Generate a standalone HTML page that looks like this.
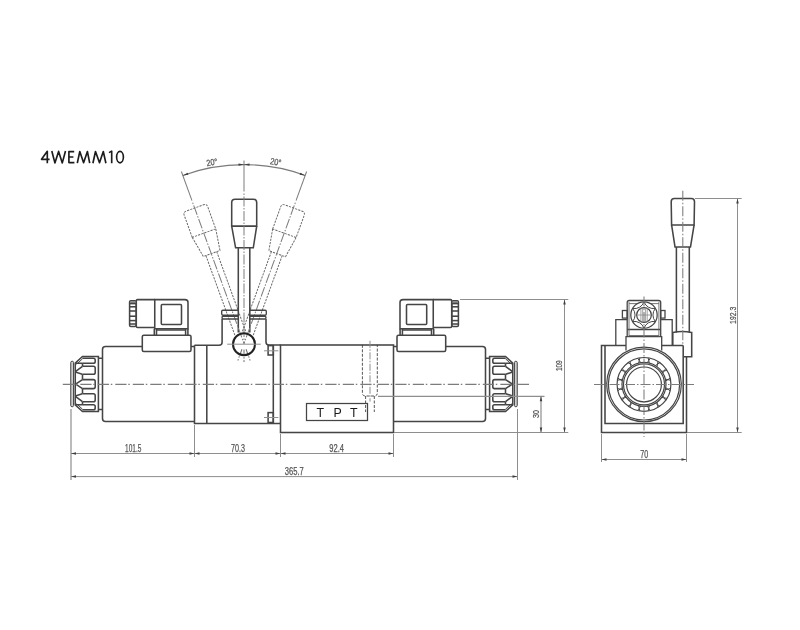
<!DOCTYPE html>
<html><head><meta charset="utf-8"><style>
html,body{margin:0;padding:0;background:#fff;}
svg{display:block;}
.dim{font-family:"Liberation Sans",sans-serif;fill:#555;stroke:#555;stroke-width:0.25px;}
.title{font-family:"Liberation Sans",sans-serif;font-size:18px;fill:#1a1a1a;}
</style></head><body>
<svg width="800" height="630" viewBox="0 0 800 630" style="will-change:transform">
<g fill="none" stroke="#1c1c1c" stroke-width="1.65" stroke-linejoin="round" stroke-linecap="butt"><path d="M47.3,163.3 V151.3 L41.5,159.3 H49.6"/><path d="M51.8,151 L54.9,162.9 L58.6,151.4 L62.3,162.9 L65.5,151"/><path d="M74.2,151.6 H68.9 V162.6 H74.4 M68.9,157 H73.4"/><path d="M77.3,163.2 L79.8,151.5 L83.6,162.7 L87.4,151.5 L89.7,163.2"/><path d="M92.9,163.2 L95.5,151.5 L99.5,162.7 L103.3,151.5 L105.9,163.2"/><path d="M109,152.6 L111.7,151.1 V163.3"/><ellipse cx="120" cy="157.1" rx="3.4" ry="5.7"/></g>
<g fill="none" stroke="#666" stroke-width="0.95" stroke-dasharray="2.2,1.1" transform="rotate(-20 244.0 343.6)"><path d="M231.7,226.1 V202.6 Q231.7,199.3 235,199.3 H253.4 Q256.7,199.3 256.7,202.6 V226.1 Z"/><path d="M231.7,226.1 L235.6,247.8 H253.3 L256.7,226.1"/><path d="M238.3,247.8 V332.6 M249.8,247.8 V332.6"/></g><g fill="none" stroke="#666" stroke-width="0.95" stroke-dasharray="2.2,1.1" transform="rotate(20 244.0 343.6)"><path d="M231.7,226.1 V202.6 Q231.7,199.3 235,199.3 H253.4 Q256.7,199.3 256.7,202.6 V226.1 Z"/><path d="M231.7,226.1 L235.6,247.8 H253.3 L256.7,226.1"/><path d="M238.3,247.8 V332.6 M249.8,247.8 V332.6"/></g><g fill="none" stroke="#454545" stroke-width="1.55"><path d="M231.7,226.1 V202.6 Q231.7,199.3 235,199.3 H253.4 Q256.7,199.3 256.7,202.6 V226.1 Z"/><path d="M231.7,226.1 L235.6,247.8 H253.3 L256.7,226.1"/><path d="M238.3,247.8 V332.6 M249.8,247.8 V332.6"/></g><g stroke="#7c7c7c" stroke-width="1" fill="none" transform="rotate(0 244.0 343.6)"><path d="M244,160.5 V191.5"/><path d="M244,193.5 V343.6" stroke-dasharray="1.5,1.5,10,1.5"/></g><g stroke="#7c7c7c" stroke-width="1" fill="none" transform="rotate(-20 244.0 343.6)"><path d="M244,160.5 V191.5"/><path d="M244,193.5 V343.6" stroke-dasharray="1.5,1.5,10,1.5"/></g><g stroke="#7c7c7c" stroke-width="1" fill="none" transform="rotate(20 244.0 343.6)"><path d="M244,160.5 V191.5"/><path d="M244,193.5 V343.6" stroke-dasharray="1.5,1.5,10,1.5"/></g><g stroke="#6e6e6e" stroke-width="1" stroke-dasharray="6,1.5,1.5,1.5" fill="none"><path d="M244,349.6 V362.1"/><path d="M244,349.6 V361.6" transform="rotate(-20 244.0 343.6)"/><path d="M244,349.6 V361.6" transform="rotate(20 244.0 343.6)"/></g><path d="M182.78,175.40 A179,179 0 0 1 305.22,175.40" fill="none" stroke="#7a7a7a" stroke-width="1.1"/><path d="M182.78,175.40 L187.66,172.63 L188.35,174.71 Z" fill="#404040" stroke="none"/><path d="M305.22,175.40 L299.65,174.71 L300.34,172.63 Z" fill="#404040" stroke="none"/><path d="M244.00,164.60 L238.50,165.70 L238.50,163.50 Z" fill="#404040" stroke="none"/><path d="M244.00,164.60 L249.50,163.50 L249.50,165.70 Z" fill="#404040" stroke="none"/><g transform="translate(211.90,162.20) rotate(-10)"><text x="0" y="3.20" font-size="8.94" text-anchor="middle" textLength="11.00" lengthAdjust="spacingAndGlyphs" class="dim">20°</text></g><g transform="translate(275.70,161.80) rotate(10)"><text x="0" y="3.20" font-size="8.94" text-anchor="middle" textLength="11.20" lengthAdjust="spacingAndGlyphs" class="dim">20°</text></g><g fill="none" stroke="#454545" stroke-width="1.55"><path d="M194.5,346.5 H105.5 Q102.5,346.5 102.5,349.5 V418.5 Q102.5,421.5 105.5,421.5 H194.5"/><rect x="70.75" y="361.2" width="2.8" height="45.6" rx="1.4" fill="#d0d0d0" stroke-width="1.0"/><path d="M98.4,356.5 H82.5 L75.25,363.2 V404.8 L82.5,411.5 H98.4 Z"/><path d="M76.6,364.3 L82.6,358.7 M76.6,403.7 L82.6,409.3" stroke-width="1"/><path d="M82.5,358.2 H93.4 Q95.2,358.2 95.2,360.0 V361.5 Q95.2,363.3 93.4,363.3 H82.5"/><path d="M82.5,366.3 H93.4 Q95.2,366.3 95.2,368.1 V372.5 Q95.2,374.3 93.4,374.3 H82.5"/><path d="M82.5,379.6 H93.4 Q95.2,379.6 95.2,381.40000000000003 V386.8 Q95.2,388.6 93.4,388.6 H82.5"/><path d="M82.5,393.7 H93.4 Q95.2,393.7 95.2,395.5 V399.9 Q95.2,401.7 93.4,401.7 H82.5"/><path d="M82.5,404.7 H93.4 Q95.2,404.7 95.2,406.5 V408.0 Q95.2,409.8 93.4,409.8 H82.5"/><path d="M75.25,363.3 H82.5 M75.25,404.7 H82.5"/><path d="M82.5,366.3 L76,371.2 L76,372.3 L82.3,374.3"/><path d="M82.5,379.6 L75.6,384.1 L82.5,388.6"/><path d="M82.3,393.7 L76,395.7 L76,396.8 L82.5,401.7"/><path d="M82.5,363.3 V366.3 M82.5,374.3 V379.6 M82.5,388.6 V393.7 M82.5,401.7 V404.7"/><path d="M98.4,358.3 H102.5 M98.4,409.5 H102.5"/><rect x="142.3" y="335.3" width="48.7" height="16.3" rx="1.5" fill="#fff"/><path d="M154.3,328.8 V335.3 M156.5,328.8 V335.3 M185.6,328.8 V335.3 M187.9,328.8 V335.3 M156.5,329.9 H185.6"/><path d="M154.75,328.8 V299.6 H185 Q188,299.6 188,302.6 V328.8 Z"/><rect x="161.3" y="304.4" width="20.2" height="20" rx="1"/><path d="M154.75,299.6 H137.5 Q136.3,299.6 136.3,300.8 V326.3 Q136.3,327.5 137.5,327.5 H154.75"/><rect x="129.6" y="300.8" width="6.6" height="25.6" rx="1.2"/><rect x="130.2" y="301.3" width="5.4" height="2.2" fill="#888" stroke="none"/><path d="M129.8,303.6 H136"/><path d="M129.8,306.8 H136"/><path d="M129.8,311.0 H136"/><path d="M129.8,316.2 H136"/><path d="M129.8,320.6 H136"/><path d="M129.8,324.0 H136"/></g><g fill="none" stroke="#454545" stroke-width="1.55" transform="translate(588,0) scale(-1,1)"><path d="M194.5,346.5 H105.5 Q102.5,346.5 102.5,349.5 V418.5 Q102.5,421.5 105.5,421.5 H194.5"/><rect x="70.75" y="361.2" width="2.8" height="45.6" rx="1.4" fill="#d0d0d0" stroke-width="1.0"/><path d="M98.4,356.5 H82.5 L75.25,363.2 V404.8 L82.5,411.5 H98.4 Z"/><path d="M76.6,364.3 L82.6,358.7 M76.6,403.7 L82.6,409.3" stroke-width="1"/><path d="M82.5,358.2 H93.4 Q95.2,358.2 95.2,360.0 V361.5 Q95.2,363.3 93.4,363.3 H82.5"/><path d="M82.5,366.3 H93.4 Q95.2,366.3 95.2,368.1 V372.5 Q95.2,374.3 93.4,374.3 H82.5"/><path d="M82.5,379.6 H93.4 Q95.2,379.6 95.2,381.40000000000003 V386.8 Q95.2,388.6 93.4,388.6 H82.5"/><path d="M82.5,393.7 H93.4 Q95.2,393.7 95.2,395.5 V399.9 Q95.2,401.7 93.4,401.7 H82.5"/><path d="M82.5,404.7 H93.4 Q95.2,404.7 95.2,406.5 V408.0 Q95.2,409.8 93.4,409.8 H82.5"/><path d="M75.25,363.3 H82.5 M75.25,404.7 H82.5"/><path d="M82.5,366.3 L76,371.2 L76,372.3 L82.3,374.3"/><path d="M82.5,379.6 L75.6,384.1 L82.5,388.6"/><path d="M82.3,393.7 L76,395.7 L76,396.8 L82.5,401.7"/><path d="M82.5,363.3 V366.3 M82.5,374.3 V379.6 M82.5,388.6 V393.7 M82.5,401.7 V404.7"/><path d="M98.4,358.3 H102.5 M98.4,409.5 H102.5"/><rect x="142.3" y="335.3" width="48.7" height="16.3" rx="1.5" fill="#fff"/><path d="M154.3,328.8 V335.3 M156.5,328.8 V335.3 M185.6,328.8 V335.3 M187.9,328.8 V335.3 M156.5,329.9 H185.6"/><path d="M154.75,328.8 V299.6 H185 Q188,299.6 188,302.6 V328.8 Z"/><rect x="161.3" y="304.4" width="20.2" height="20" rx="1"/><path d="M154.75,299.6 H137.5 Q136.3,299.6 136.3,300.8 V326.3 Q136.3,327.5 137.5,327.5 H154.75"/><rect x="129.6" y="300.8" width="6.6" height="25.6" rx="1.2"/><rect x="130.2" y="301.3" width="5.4" height="2.2" fill="#888" stroke="none"/><path d="M129.8,303.6 H136"/><path d="M129.8,306.8 H136"/><path d="M129.8,311.0 H136"/><path d="M129.8,316.2 H136"/><path d="M129.8,320.6 H136"/><path d="M129.8,324.0 H136"/></g><g fill="none" stroke="#454545" stroke-width="1.55"><path d="M194.5,345.2 V423.5 H280.5"/><path d="M206.8,345.2 V423.5"/><path d="M194.5,345.2 H219 Q222.1,345.2 222.1,342.2 V319"/><path d="M266,319 V342 Q266,345 269,345 H280.5"/><path d="M273.3,345 V423"/><rect x="268.1" y="345.6" width="5.2" height="9.4"/><rect x="268.1" y="412.6" width="5.2" height="9.9"/></g><g fill="none" stroke="#454545" stroke-width="1.35"><path d="M238.4,310.2 H222.8 Q221.7,310.2 221.7,311.3 V314.1 Q221.7,315.2 222.8,315.2 H238.4"/><path d="M238.4,316.2 H223 Q222.1,316.2 222.1,317.1 V318.1 Q222.1,319 223,319 H238.4"/><path d="M249.9,310.2 H265.2 Q266.3,310.2 266.3,311.3 V314.1 Q266.3,315.2 265.2,315.2 H249.9"/><path d="M249.9,316.2 H265 Q265.9,316.2 265.9,317.1 V318.1 Q265.9,319 265,319 H249.9"/></g><circle cx="244" cy="344.2" r="11" fill="none" stroke="#222" stroke-width="2.0"/><g stroke="#8e8e8e" stroke-width="1.0"><path d="M227.2,344.2 H260.8"/><path d="M264,350.8 H278.4 M264,417.5 H278.4"/></g><g fill="none" stroke="#454545" stroke-width="1.55"><rect x="280.5" y="345" width="113" height="87.5"/><rect x="306.5" y="403.5" width="61" height="17" stroke-width="1.25"/></g><g fill="none" stroke="#444" stroke-width="0.9" stroke-dasharray="3,1.5"><path d="M362.4,344.8 V393 Q362.4,396 365.4,396 H374.3 Q377.3,396 377.3,393 V344.8"/><path d="M365.6,396 V412 M374.3,396 V412"/></g><path d="M370,340.8 V401.6" stroke="#8e8e8e" stroke-width="1.0" stroke-dasharray="7,1.5,1.5,1.5"/><text x="320.4" y="416.8" font-size="12.4" text-anchor="middle" fill="#1a1a1a" style="font-family:'Liberation Sans',sans-serif">T</text><text x="337.7" y="416.8" font-size="12.4" text-anchor="middle" fill="#1a1a1a" style="font-family:'Liberation Sans',sans-serif">P</text><text x="353.9" y="416.8" font-size="12.4" text-anchor="middle" fill="#1a1a1a" style="font-family:'Liberation Sans',sans-serif">T</text><path d="M60.5,384.4 H530.5" stroke="#7c7c7c" stroke-width="1.1" stroke-dasharray="11.25,1.75,1.5,3" stroke-dashoffset="15.2"/><g stroke="#8e8e8e" stroke-width="1.0" fill="none"><path d="M194.5,425 V457 M280.5,434 V457 M393.5,434 V457 M517.5,409 V480"/><path d="M71,409 V480" stroke-width="1.2"/><path d="M71,453.5 H393.5 M71,476.6 H517.5"/><path d="M378,396.3 H544.5" stroke-width="1.2"/><path d="M460,299.5 H568.3 M394,432.5 H568.3"/><path d="M541,396.3 V432.5" stroke-width="1.2"/><path d="M564.5,299.5 V432.5"/></g><path d="M71.00,453.50 L76.00,452.25 L76.00,454.75 Z" fill="#404040" stroke="none"/><path d="M194.50,453.50 L189.50,454.75 L189.50,452.25 Z" fill="#404040" stroke="none"/><path d="M194.50,453.50 L199.50,452.25 L199.50,454.75 Z" fill="#404040" stroke="none"/><path d="M280.50,453.50 L275.50,454.75 L275.50,452.25 Z" fill="#404040" stroke="none"/><path d="M280.50,453.50 L285.50,452.25 L285.50,454.75 Z" fill="#404040" stroke="none"/><path d="M393.50,453.50 L388.50,454.75 L388.50,452.25 Z" fill="#404040" stroke="none"/><path d="M71.00,476.60 L76.00,475.35 L76.00,477.85 Z" fill="#404040" stroke="none"/><path d="M517.50,476.60 L512.50,477.85 L512.50,475.35 Z" fill="#404040" stroke="none"/><path d="M564.50,299.50 L565.75,304.50 L563.25,304.50 Z" fill="#404040" stroke="none"/><path d="M564.50,432.50 L563.25,427.50 L565.75,427.50 Z" fill="#404040" stroke="none"/><path d="M541.00,396.30 L542.25,401.30 L539.75,401.30 Z" fill="#404040" stroke="none"/><path d="M541.00,432.50 L539.75,427.50 L542.25,427.50 Z" fill="#404040" stroke="none"/><text x="133.25" y="452.00" font-size="10.50" text-anchor="middle" textLength="16.30" lengthAdjust="spacingAndGlyphs" class="dim">101.5</text><text x="238.00" y="452.00" font-size="10.50" text-anchor="middle" textLength="14.00" lengthAdjust="spacingAndGlyphs" class="dim">70.3</text><text x="336.65" y="452.00" font-size="10.50" text-anchor="middle" textLength="14.70" lengthAdjust="spacingAndGlyphs" class="dim">92.4</text><text x="294.30" y="475.00" font-size="10.50" text-anchor="middle" textLength="19.00" lengthAdjust="spacingAndGlyphs" class="dim">365.7</text><g transform="translate(558.90,365.70) rotate(-90)"><text x="0" y="3.50" font-size="9.78" text-anchor="middle" textLength="10.80" lengthAdjust="spacingAndGlyphs" class="dim">109</text></g><g transform="translate(535.30,413.90) rotate(-90)"><text x="0" y="3.50" font-size="9.78" text-anchor="middle" textLength="8.00" lengthAdjust="spacingAndGlyphs" class="dim">30</text></g><g fill="none" stroke="#454545" stroke-width="1.55"><path d="M683.2,345.5 H662 M626,345.5 H601.5 V432.5 H686.5 V356.7"/><path d="M605,345.5 V423.5 H683.2 V345.5"/></g><g fill="none" stroke="#454545" stroke-width="1.3"><path d="M615.8,345.5 V319.6 H627.2 M660.7,319.6 H672.2 V345.5"/><path d="M626,350.5 V336.7 H661.7 V350.5"/><path d="M627.2,336.7 V302.5 Q627.2,300.5 629.2,300.5 H658.7 Q660.7,300.5 660.7,302.5 V336.7"/><path d="M627.2,329.5 H660.7"/><rect x="622.4" y="310.5" width="4.8" height="7.6"/><rect x="660.7" y="310.5" width="4.3" height="7.6"/></g><path d="M629,301.8 V336.7 M658.9,301.8 V336.7 M629,303.6 H658.9 M629,335.5 H658.9" fill="none" stroke="#666" stroke-width="0.9"/><circle cx="644" cy="315" r="13.2" fill="#fff" stroke="#454545" stroke-width="1.25"/><path d="M644.00,301.80 A10,10 0 0 0 655.43,308.40 A10,10 0 0 0 655.43,321.60 A10,10 0 0 0 644.00,328.20 A10,10 0 0 0 632.57,321.60 A10,10 0 0 0 632.57,308.40 A10,10 0 0 0 644.00,301.80 Z" fill="none" stroke="#454545" stroke-width="1.0"/><circle cx="644" cy="315" r="7.35" fill="none" stroke="#454545" stroke-width="1.25"/><path d="M640.9,308 V322 M642.7,308 V322 M645.4,308 V322 M647.2,308 V322 M636.7,315 H651.3" stroke="#888" stroke-width="0.8"/><g fill="none" stroke="#454545" stroke-width="1.55"><path d="M671.6,224.9 L671.2,201.7 Q671.2,198.5 674.4,198.5 H691.3 Q694.5,198.5 694.5,201.7 L694.1,224.9 Z"/><path d="M671.6,224.9 L675,246.9 H690.5 L694.1,224.9"/><path d="M676.4,246.9 V332.5 M689.3,246.9 V332.5"/><path d="M672.8,345.5 V332.5 Q682,330.5 691.7,332.5 V356.7 H683.9"/></g><g fill="none" stroke="#454545" stroke-width="1.2"><circle cx="644" cy="384.4" r="37.3"/><circle cx="644" cy="384.4" r="35.6"/><circle cx="644" cy="384.4" r="26.9"/><circle cx="644" cy="384.4" r="22.0"/><circle cx="644" cy="384.4" r="20.5"/><circle cx="644" cy="384.4" r="17.4"/></g><path d="M639.91,357.81 Q638.24,360.64 640.65,362.66 M648.09,357.81 Q649.76,360.64 647.35,362.66 M650.39,358.27 Q647.77,360.24 649.23,363.03 M657.96,361.40 Q658.41,364.65 655.41,365.59 M659.91,362.71 Q656.73,363.53 657.01,366.66 M665.69,368.49 Q664.87,371.67 661.74,371.39 M667.00,370.44 Q663.75,369.99 662.81,372.99 M670.13,378.01 Q668.16,380.63 665.37,379.17 M670.59,380.31 Q667.76,378.64 665.74,381.05 M670.59,388.49 Q667.76,390.16 665.74,387.75 M670.13,390.79 Q668.16,388.17 665.37,389.63 M667.00,398.36 Q663.75,398.81 662.81,395.81 M665.69,400.31 Q664.87,397.13 661.74,397.41 M659.91,406.09 Q656.73,405.27 657.01,402.14 M657.96,407.40 Q658.41,404.15 655.41,403.21 M650.39,410.53 Q647.77,408.56 649.23,405.77 M648.09,410.99 Q649.76,408.16 647.35,406.14 M639.91,410.99 Q638.24,408.16 640.65,406.14 M637.61,410.53 Q640.23,408.56 638.77,405.77 M630.04,407.40 Q629.59,404.15 632.59,403.21 M628.09,406.09 Q631.27,405.27 630.99,402.14 M622.31,400.31 Q623.13,397.13 626.26,397.41 M621.00,398.36 Q624.25,398.81 625.19,395.81 M617.87,390.79 Q619.84,388.17 622.63,389.63 M617.41,388.49 Q620.24,390.16 622.26,387.75 M617.41,380.31 Q620.24,378.64 622.26,381.05 M617.87,378.01 Q619.84,380.63 622.63,379.17 M621.00,370.44 Q624.25,369.99 625.19,372.99 M622.31,368.49 Q623.13,371.67 626.26,371.39 M628.09,362.71 Q631.27,363.53 630.99,366.66 M630.04,361.40 Q629.59,364.65 632.59,365.59 M637.61,358.27 Q640.23,360.24 638.77,363.03" fill="none" stroke="#454545" stroke-width="1.0"/><g stroke="#7c7c7c" stroke-width="1.05" stroke-dasharray="10,2,1.5,2" fill="none"><path d="M594,384.4 H694"/><path d="M644,296.5 V437"/><path d="M682.8,190.8 V345"/></g><g stroke="#8e8e8e" stroke-width="1.0" fill="none"><path d="M695,198.5 H741.7 M687,432.5 H741.7 M737.5,198.5 V432.5"/><path d="M601.5,434 V462 M686.5,434 V462 M601.5,459.5 H686.5"/></g><path d="M737.50,198.50 L738.75,203.50 L736.25,203.50 Z" fill="#404040" stroke="none"/><path d="M737.50,432.50 L736.25,427.50 L738.75,427.50 Z" fill="#404040" stroke="none"/><path d="M601.50,459.50 L606.50,458.25 L606.50,460.75 Z" fill="#404040" stroke="none"/><path d="M686.50,459.50 L681.50,460.75 L681.50,458.25 Z" fill="#404040" stroke="none"/><text x="644.25" y="458.00" font-size="10.50" text-anchor="middle" textLength="7.90" lengthAdjust="spacingAndGlyphs" class="dim">70</text><g transform="translate(732.20,315.30) rotate(-90)"><text x="0" y="3.35" font-size="9.36" text-anchor="middle" textLength="17.20" lengthAdjust="spacingAndGlyphs" class="dim">192.3</text></g>
</svg>
</body></html>
